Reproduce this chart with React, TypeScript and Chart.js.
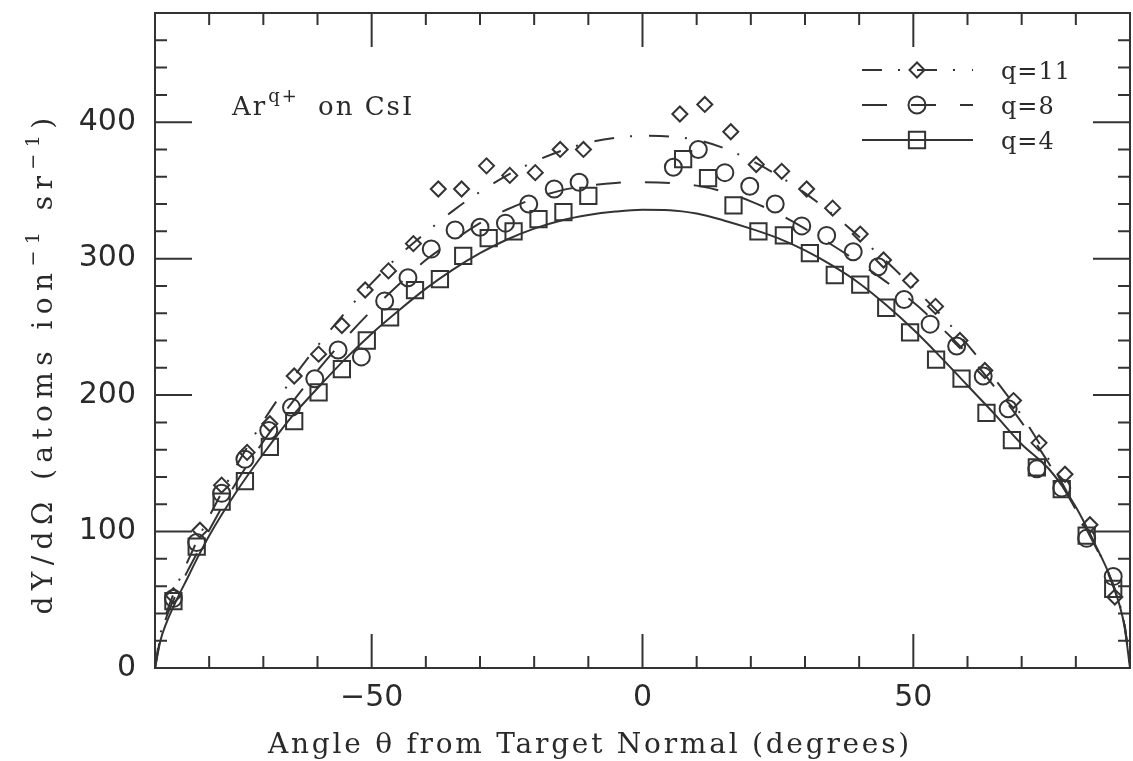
import React, { useEffect, useRef } from 'react';
import { Chart, registerables } from 'chart.js';

Chart.register(...registerables);

const INK = '#333333';
const TEXT = '#2a2a2a';

// ---------- measured points ----------
const q11X = [-86.6, -81.7, -77.7, -73, -68.8, -64.3, -59.8, -55.5, -51.2, -46.9, -42.3, -37.7, -33.4, -28.8, -24.5, -19.8, -15.2, -10.9,
  6.9, 11.5, 16.3, 21, 25.7, 30.3, 35.1, 40.2, 44.5, 49.5, 54.1, 58.6, 63.2, 68.5, 73.2, 78, 82.6, 87.2];
const q11Y = [53, 101, 134, 158, 179, 214, 230, 251, 277, 291, 311, 351, 351, 368, 361, 363, 380, 380,
  406, 413, 393, 369, 364, 351, 337, 318, 299, 284, 265, 240, 218, 196, 165, 142, 105, 52];

const q8X = [-86.6, -82.3, -77.7, -73.4, -69, -64.8, -60.5, -56.2, -51.9, -47.6, -43.3, -39, -34.6, -30, -25.3, -21, -16.3, -11.7,
  5.7, 10.3, 15.2, 19.8, 24.5, 29.4, 34, 38.9, 43.5, 48.3, 53.1, 58, 62.9, 67.5, 72.8, 77.4, 82, 86.9];
const q8Y = [51, 92, 128, 153, 174, 191, 212, 233, 228, 269, 286, 307, 321, 323, 326, 340, 351, 356,
  367, 380, 363, 353, 340, 324, 317, 305, 294, 270, 252, 236, 214, 190, 146, 132, 95, 67];

const q4X = [-86.6, -82.3, -77.7, -73.4, -68.8, -64.3, -59.8, -55.5, -50.9, -46.6, -42, -37.4, -33.1, -28.4, -23.8, -19.2, -14.6, -10,
  7.5, 12.1, 16.8, 21.4, 26.1, 30.9, 35.5, 40.2, 45, 49.4, 54.2, 58.9, 63.5, 68.2, 72.8, 77.4, 82, 86.9];
const q4Y = [49, 89, 122, 137, 162, 181, 202, 219, 240, 257, 277, 285, 302, 315, 320, 329, 334, 346,
  373, 359, 339, 320, 317, 304, 288, 281, 264, 246, 226, 212, 187, 167, 147, 131, 97, 58];

// ---------- fitted curves ----------
const fitX = [-90, -89, -88, -86, -84, -82, -80, -75, -70, -65, -60, -55, -50, -45, -40, -35, -30, -25, -20, -15, -10, -5, 0,
  5, 10, 15, 20, 25, 30, 35, 40, 45, 50, 55, 60, 65, 70, 75, 80, 84, 86, 88, 89, 90];
const fit11 = [0, 25, 39, 60, 78, 95, 111, 148, 181, 210, 236, 260, 282, 302, 319, 335, 349, 361, 371, 379, 385, 388.5, 390,
  389.5, 387, 381, 372, 361, 348, 333, 316, 298, 279, 259, 237, 212, 185, 153, 117, 87, 70, 48, 32, 0];
const fit8 = [0, 22, 36, 55, 71, 86, 101, 136, 166, 193, 218, 241, 262, 281, 299, 313, 326, 336, 344, 350, 353.5, 355.5, 356,
  355.5, 353.5, 349, 342, 333, 322, 310, 297, 283, 268, 250, 230, 206, 180, 150, 116, 86, 69, 47, 31, 0];
const fit4 = [0, 20, 32, 50, 66, 82, 97, 129, 157, 183, 205, 226, 245, 262, 278, 292, 304, 314, 322, 328, 332, 334.5, 335.8,
  335.5, 333, 328, 322, 315, 306, 295, 282, 266, 248, 228, 207, 186, 164, 146, 118, 87, 70, 47, 30, 0];

// ---------- axes / text ----------
const xTickValues = [-50, 0, 50];
const yTickValues = [0, 100, 200, 300, 400];
const xMinorStep = 10;
const yMinorStep = 20;
const xMajorStep = 50;
const yMajorStep = 100;
const xTitle = 'Angle \u03B8 from Target Normal (degrees)';
const yTitleParts = [
  { t: 'dY/d\u03A9 (atoms ion', sup: false },
  { t: '\u22121', sup: true },
  { t: ' sr', sup: false },
  { t: '\u22121', sup: true },
  { t: ')', sup: false },
];
const legendLabels = ['q=11', 'q=8', 'q=4'];
const annotationMain = 'Ar';
const annotationSup = 'q+';
const annotationRest = 'on CsI';

const SERIF = "'DejaVu Serif', serif";
const SANS = "'DejaVu Sans', sans-serif";

const DASH11 = [20, 16, 2, 17];
const DASH8 = [25, 24];

type Style = 'rectRot' | 'circle' | 'rect';

function marker(ctx: CanvasRenderingContext2D, style: Style, x: number, y: number, r: number) {
  ctx.beginPath();
  if (style === 'circle') {
    ctx.arc(x, y, r, 0, Math.PI * 2);
  } else if (style === 'rect') {
    const h = r * Math.SQRT1_2;
    ctx.rect(x - h, y - h, 2 * h, 2 * h);
  } else {
    ctx.moveTo(x - r, y);
    ctx.lineTo(x, y - r);
    ctx.lineTo(x + r, y);
    ctx.lineTo(x, y + r);
    ctx.closePath();
  }
  ctx.stroke();
}

const decorPlugin = {
  id: 'decor',
  afterDraw(chart: any) {
    const ctx: CanvasRenderingContext2D = chart.ctx;
    const { left, right, top, bottom } = chart.chartArea;
    const xs = chart.scales.x;
    const ys = chart.scales.y;
    ctx.save();
    ctx.strokeStyle = INK;
    ctx.fillStyle = TEXT;
    ctx.lineWidth = 2;
    ctx.setLineDash([]);
    // frame
    ctx.strokeRect(left, top, right - left, bottom - top);
    // x ticks (bottom and top, inward)
    for (let v = xs.min + xMinorStep; v < xs.max; v += xMinorStep) {
      const p = xs.getPixelForValue(v);
      const len = Math.abs(v % xMajorStep) < 1e-6 ? 34 : 12;
      ctx.beginPath();
      ctx.moveTo(p, bottom); ctx.lineTo(p, bottom - len);
      ctx.moveTo(p, top); ctx.lineTo(p, top + len);
      ctx.stroke();
    }
    // y ticks (left and right, inward)
    for (let v = ys.min + yMinorStep; v < ys.max; v += yMinorStep) {
      const p = ys.getPixelForValue(v);
      const len = Math.abs(v % yMajorStep) < 1e-6 ? 37 : 12;
      ctx.beginPath();
      ctx.moveTo(left, p); ctx.lineTo(left + len, p);
      ctx.moveTo(right, p); ctx.lineTo(right - len, p);
      ctx.stroke();
    }

    ctx.textBaseline = 'alphabetic';
    ctx.textAlign = 'left';

    // x title
    ctx.font = `28px ${SERIF}`;
    (ctx as any).letterSpacing = '0px';
    const w0 = ctx.measureText(xTitle).width;
    const sp = Math.max(0, (644 - w0) / xTitle.length);
    (ctx as any).letterSpacing = `${sp}px`;
    ctx.fillText(xTitle, 268, 753);

    // y title (rotated)
    const fonts = (sup: boolean) => (sup ? `19px ${SERIF}` : `28px ${SERIF}`);
    (ctx as any).letterSpacing = '0px';
    let raw = 0;
    let nChars = 0;
    yTitleParts.forEach((p) => {
      ctx.font = fonts(p.sup);
      raw += ctx.measureText(p.t).width;
      nChars += p.t.length;
    });
    const spY = Math.max(0, (503 - raw) / nChars);
    (ctx as any).letterSpacing = `${spY}px`;
    let total = 0;
    const widths = yTitleParts.map((p) => {
      ctx.font = fonts(p.sup);
      const w = ctx.measureText(p.t).width;
      total += w;
      return w;
    });
    ctx.save();
    const cy = 363;
    ctx.translate(52, cy + total / 2);
    ctx.rotate(-Math.PI / 2);
    let cx = 0;
    yTitleParts.forEach((p, i) => {
      ctx.font = fonts(p.sup);
      ctx.fillText(p.t, cx, p.sup ? -13 : 0);
      cx += widths[i];
    });
    ctx.restore();

    // annotation
    (ctx as any).letterSpacing = '2px';
    ctx.font = `26px ${SERIF}`;
    ctx.fillText(annotationMain, 232, 115);
    const wa = ctx.measureText(annotationMain).width;
    ctx.font = `18px ${SERIF}`;
    ctx.fillText(annotationSup, 232 + wa + 1, 102);
    ctx.font = `26px ${SERIF}`;
    ctx.fillText(annotationRest, 318, 115);

    // legend
    (ctx as any).letterSpacing = '1px';
    const entries: { dash: number[]; style: Style; r: number }[] = [
      { dash: DASH11, style: 'rectRot', r: 7.5 },
      { dash: DASH8, style: 'circle', r: 8.5 },
      { dash: [], style: 'rect', r: 11.5 },
    ];
    const ly = [70, 105, 140];
    entries.forEach((e, i) => {
      const y = ly[i];
      ctx.lineWidth = 2;
      ctx.setLineDash(e.dash);
      ctx.beginPath();
      ctx.moveTo(862, y);
      ctx.lineTo(973, y);
      ctx.stroke();
      ctx.setLineDash([]);
      marker(ctx, e.style, 917, y, e.r);
      ctx.font = `24px ${SERIF}`;
      ctx.fillText(legendLabels[i], 1001, y + 9);
    });
    (ctx as any).letterSpacing = '0px';
    ctx.restore();
  },
};

const pts = (xs: number[], ys: number[]) => xs.map((x, i) => ({ x, y: ys[i] }));
const fmt = (v: number) => (v < 0 ? '\u2212' + Math.abs(v) : String(v));

export default function App() {
  const ref = useRef<HTMLCanvasElement>(null);
  useEffect(() => {
    const canvas = ref.current;
    if (!canvas) return;
    const lineBase = {
      showLine: true,
      borderColor: INK,
      borderWidth: 2,
      pointRadius: 0,
      pointHoverRadius: 0,
      cubicInterpolationMode: 'monotone' as const,
      fill: false,
    };
    const ptBase = {
      showLine: false,
      pointBorderColor: INK,
      pointBackgroundColor: 'rgba(0,0,0,0)',
      pointBorderWidth: 2,
    };
    const chart = new Chart(canvas, {
      type: 'scatter',
      data: {
        datasets: [
          { ...lineBase, label: 'q=11 fit', data: pts(fitX, fit11), borderDash: DASH11 },
          { ...lineBase, label: 'q=8 fit', data: pts(fitX, fit8), borderDash: DASH8 },
          { ...lineBase, label: 'q=4 fit', data: pts(fitX, fit4) },
          { ...ptBase, label: 'q=11', data: pts(q11X, q11Y), pointStyle: 'rectRot', pointRadius: 7.5 },
          { ...ptBase, label: 'q=8', data: pts(q8X, q8Y), pointStyle: 'circle', pointRadius: 8.5 },
          { ...ptBase, label: 'q=4', data: pts(q4X, q4Y), pointStyle: 'rect', pointRadius: 11.5 },
        ] as any,
      },
      options: {
        animation: false,
        responsive: false,
        devicePixelRatio: 1,
        layout: { autoPadding: false, padding: { top: 13, right: 3, left: 0, bottom: 0 } },
        plugins: { legend: { display: false }, tooltip: { enabled: false } },
        events: [],
        scales: {
          x: {
            type: 'linear',
            min: -90,
            max: 90,
            grid: { display: false, drawTicks: false },
            border: { display: false },
            ticks: {
              font: { family: SANS, size: 30 },
              color: TEXT,
              padding: 12,
              maxRotation: 0,
              autoSkip: false,
              callback: (v: any) => fmt(Number(v)),
            },
            afterBuildTicks: (s: any) => {
              s.ticks = xTickValues.map((value) => ({ value }));
            },
            afterFit: (s: any) => {
              s.height = 93;
              s.paddingLeft = 0;
              s.paddingRight = 0;
              s.paddingTop = 0;
              s.paddingBottom = 0;
            },
          },
          y: {
            type: 'linear',
            min: 0,
            max: 480,
            grid: { display: false, drawTicks: false },
            border: { display: false },
            ticks: {
              font: { family: SANS, size: 30 },
              color: TEXT,
              padding: 19,
              autoSkip: false,
              callback: (v: any) => fmt(Number(v)),
            },
            afterBuildTicks: (s: any) => {
              s.ticks = yTickValues.map((value) => ({ value }));
            },
            afterFit: (s: any) => {
              s.width = 155;
              s.paddingLeft = 0;
              s.paddingRight = 0;
              s.paddingTop = 0;
              s.paddingBottom = 0;
            },
          },
        },
      } as any,
      plugins: [decorPlugin],
    });
    return () => chart.destroy();
  }, []);
  return (
    <div style={{ position: 'fixed', left: 0, top: 0, width: 1133, height: 761, background: '#fff' }}>
      <canvas ref={ref} width={1133} height={761} style={{ display: 'block' }} />
    </div>
  );
}
